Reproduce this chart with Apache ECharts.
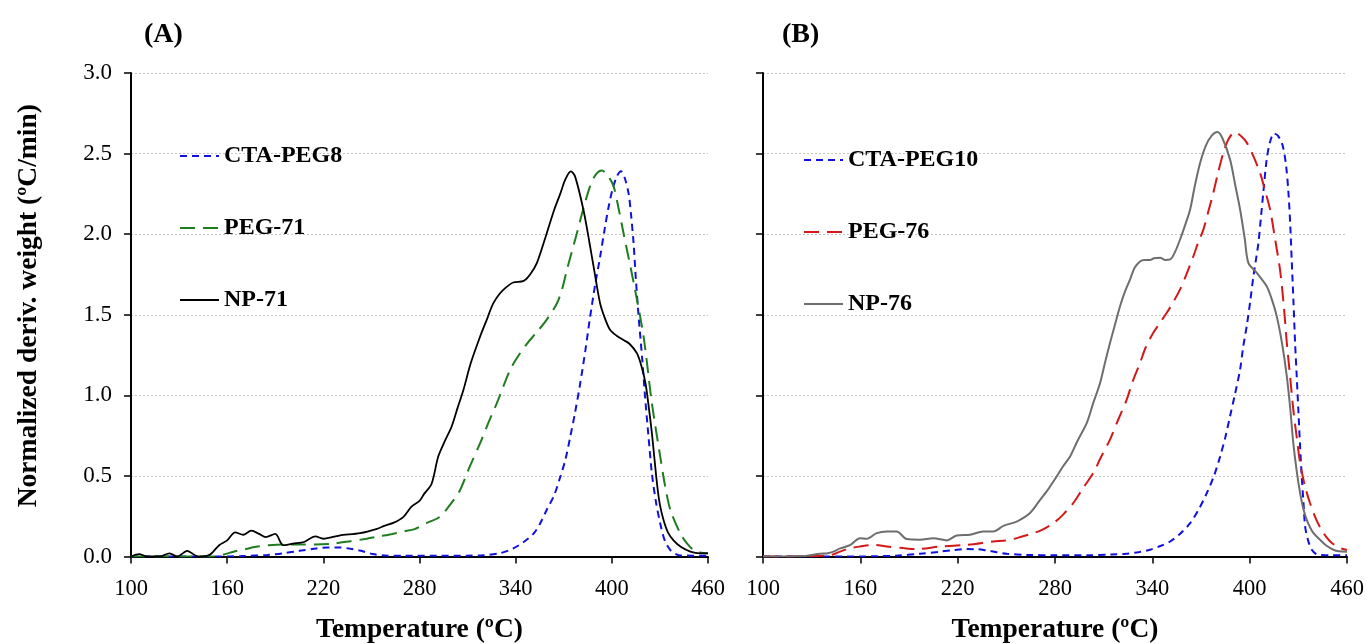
<!DOCTYPE html>
<html>
<head>
<meta charset="utf-8">
<script src="https://cdn.jsdelivr.net/npm/echarts@6/dist/echarts.min.js"></script>
<style>
  html, body { margin: 0; padding: 0; background: #fff; }
  #chart { width: 1367px; height: 644px; }
</style>
</head>
<body>
<div id="chart"></div>
<script>
// x ticks / y ticks
const xTicks = [100, 160, 220, 280, 340, 400, 460];
const yTicks = [0, 0.5, 1.0, 1.5, 2.0, 2.5, 3.0];

// panel (A)
const np71T = [100,105,110,118,124,129,135,142,149,155,160,165,170,175,180,184,190,195,201,208,215,220,230,243,253,258,264,270,275,280,283,287.5,291.7,296,300,304,307.3,312,317.8,322,326,330,334,338.5,345,349,353.2,359.4,364,367.8,371,374.4,377,382.3,386,388.6,392.7,396,399,403,407.3,411,415.7,418.5,421,423,425,428.2,430,432.3,435,438.5,443,449,455,460];
const np71V = [0,0.015,0,0,0.02,0,0.035,0,0.01,0.07,0.10,0.15,0.135,0.16,0.14,0.12,0.14,0.07,0.08,0.09,0.125,0.11,0.13,0.145,0.17,0.19,0.21,0.246,0.31,0.345,0.39,0.45,0.62,0.72,0.805,0.93,1.03,1.20,1.364,1.47,1.57,1.63,1.67,1.70,1.71,1.75,1.82,2.006,2.15,2.25,2.34,2.39,2.36,2.15,1.95,1.80,1.57,1.47,1.405,1.37,1.343,1.32,1.26,1.18,1.075,0.93,0.764,0.45,0.32,0.225,0.15,0.10,0.06,0.03,0.02,0.02];

const peg71T = [100,150,157,164,171,178,186,195,205,215,226,237,247,255,263,270,277,285,292.7,299,305.2,311,317.7,323,328.2,336.5,342,347,353,359.4,365.7,369,372,378.2,382,386.5,390,393.8,397,401,404,407.3,413.6,419.8,425,430.2,433,436.5,442.7,447,451,455,460];
const peg71V = [0,0,0.01,0.03,0.045,0.06,0.07,0.075,0.075,0.075,0.08,0.095,0.11,0.125,0.14,0.155,0.17,0.21,0.246,0.32,0.41,0.55,0.70,0.83,0.95,1.157,1.25,1.32,1.39,1.47,1.57,1.66,1.78,2.006,2.15,2.30,2.37,2.395,2.37,2.30,2.17,2.006,1.70,1.364,0.95,0.62,0.45,0.29,0.143,0.08,0.04,0.025,0.02];

const cta8T = [100,160,170,185,195,205,215.7,223,230.3,237,242.8,251,258,270,290,310,320,330,338.5,345,351,355,359.4,364,367.7,371,374,377,380.2,383.5,386.5,389.5,392.7,395.5,398,400.5,403.2,405.7,408,410.5,412,413.6,415,416.7,419,420.9,423,425,427.5,430.2,433,436.5,440,443,460];
const cta8V = [0,0,0.003,0.01,0.02,0.035,0.05,0.056,0.056,0.048,0.037,0.015,0.006,0.004,0.004,0.005,0.008,0.02,0.05,0.09,0.14,0.20,0.29,0.38,0.49,0.60,0.74,0.89,1.07,1.28,1.49,1.68,1.86,2.03,2.17,2.28,2.36,2.39,2.35,2.25,2.12,1.94,1.72,1.49,1.22,0.97,0.73,0.515,0.34,0.205,0.10,0.04,0.015,0.006,0.005];

// panel (B)
const np76T = [100,125,135.1,140,143.4,147.5,153.6,159.8,163.9,170.1,176.3,182.4,188.6,196.8,205,213.3,219.4,227.6,235.8,242,248.2,256.4,264.6,270.8,276,281.1,285,289.3,294,299.6,303.5,307.8,311,313.9,317,320.1,323,326.3,329,332.4,335,338.6,341,344.8,348,351,354,357.1,360,363.3,366,369.4,373,376.5,380.1,383,387.9,391,394.1,397,399.2,404.4,410.5,413.5,416.7,420,422.9,425,426.9,429,431.1,433,435.2,439,443.4,447,451.6,455,460];
const np76V = [0,0.003,0.017,0.02,0.03,0.05,0.07,0.114,0.11,0.145,0.155,0.155,0.108,0.104,0.114,0.10,0.13,0.135,0.155,0.155,0.19,0.217,0.27,0.352,0.42,0.497,0.56,0.621,0.72,0.829,0.95,1.077,1.21,1.325,1.44,1.553,1.64,1.72,1.79,1.83,1.84,1.84,1.85,1.853,1.84,1.843,1.89,1.967,2.05,2.153,2.29,2.44,2.55,2.61,2.634,2.60,2.464,2.31,2.153,1.97,1.822,1.76,1.677,1.60,1.49,1.32,1.118,0.92,0.704,0.53,0.394,0.30,0.228,0.15,0.104,0.07,0.042,0.032,0.03];

const peg76T = [100,140,147.5,153,159.8,168,176.3,186.5,194.8,209.1,225.6,242,250,256.4,266.7,272,279,285,291.3,297,303.6,308,313.9,319,324.2,328,332.4,336,340.6,344,348.9,353,357.1,361,365.3,368,371.5,374.5,377.6,380.5,383.8,387,391,394.5,398.2,402,406.4,409.5,412.6,415.5,418.7,421,422.9,425,426.9,429,431.1,434,437.2,441,445.5,449.5,453.7,457,460];
const peg76V = [0,0.005,0.03,0.05,0.062,0.072,0.062,0.052,0.046,0.062,0.072,0.093,0.10,0.114,0.145,0.165,0.207,0.26,0.332,0.42,0.518,0.61,0.725,0.85,0.973,1.09,1.201,1.30,1.388,1.44,1.512,1.58,1.657,1.75,1.863,1.94,2.03,2.14,2.257,2.38,2.505,2.59,2.634,2.61,2.568,2.49,2.38,2.27,2.153,1.98,1.78,1.56,1.325,1.11,0.911,0.74,0.58,0.44,0.332,0.23,0.145,0.095,0.062,0.048,0.04];

const cta10T = [100,160,170,182,196.8,209.1,218,225.6,232,238,244,250.3,262.6,280,300,315,324,332,338.6,345,351,357,363.3,368.5,373.6,378,381.8,385,387.9,391,394.1,396,398.2,400.3,402.3,404,405.4,407,408.4,410.5,412.5,415,417.5,420.4,422.5,423.9,425,425.9,427,428,429,430,431,432.1,433.2,434.2,436,438.3,441,443.4,450,460];
const cta10V = [0,0,0.002,0.005,0.017,0.03,0.04,0.046,0.045,0.037,0.027,0.017,0.01,0.008,0.008,0.012,0.017,0.028,0.042,0.065,0.093,0.14,0.207,0.29,0.394,0.50,0.621,0.74,0.87,1.01,1.16,1.30,1.43,1.58,1.739,1.85,1.947,2.11,2.257,2.464,2.57,2.625,2.61,2.547,2.42,2.257,2.06,1.843,1.58,1.325,1.12,0.911,0.70,0.497,0.33,0.186,0.10,0.042,0.015,0.01,0.008,0.008];

const serif = 'Liberation Serif';

function pairs(t, v) {
    return t.map(function (x, i) { return [x, v[i]]; });
}

function makeSeries(name, t, v, idx, color, type, width) {
    return {
        name: name,
        type: 'line',
        xAxisIndex: idx,
        yAxisIndex: idx,
        data: pairs(t, v),
        smooth: 0.3,
        symbol: 'none',
        lineStyle: { color: color, width: width, type: type },
        itemStyle: { color: color },
        z: 3
    };
}

function makeX(idx) {
    return {
        type: 'value', gridIndex: idx,
        min: xTicks[0], max: xTicks[xTicks.length - 1], interval: 60,
        name: 'Temperature (ºC)', nameLocation: 'middle', nameGap: 59,
        nameTextStyle: { fontFamily: serif, fontWeight: 'bold', fontSize: 27.5, color: '#000' },
        axisLine: { lineStyle: { color: '#000', width: 2 } },
        axisTick: { length: 7, lineStyle: { color: '#000', width: 1.5 } },
        axisLabel: { fontFamily: serif, fontSize: 22.5, color: '#000', margin: 21 },
        splitLine: { show: false }
    };
}

function makeY(idx) {
    return {
        type: 'value', gridIndex: idx,
        min: yTicks[0], max: yTicks[yTicks.length - 1], interval: 0.5,
        name: idx === 0 ? 'Normalized deriv. weight (ºC/min)' : '',
        nameLocation: 'middle', nameGap: 88,
        nameTextStyle: { fontFamily: serif, fontWeight: 'bold', fontSize: 27.5, color: '#000', padding: [0, 0, 0, 18] },
        axisLine: { show: true, lineStyle: { color: '#000', width: 2 } },
        axisTick: { show: true, length: 7, lineStyle: { color: '#000', width: 1.5 } },
        axisLabel: {
            show: idx === 0, fontFamily: serif, fontSize: 23, color: '#000', margin: 19,
            formatter: function (v) { return v.toFixed(1); }
        },
        splitLine: { show: true, lineStyle: { color: '#c4c4c4', width: 1, type: [2, 2] } }
    };
}

function makeLegend(left, top, names) {
    return {
        orient: 'vertical', left: left, top: top, padding: 0,
        data: names, itemWidth: 39, itemHeight: 12, itemGap: 48,
        selectedMode: false,
        itemStyle: { opacity: 0 },
        lineStyle: { width: 2 },
        textStyle: { fontFamily: serif, fontWeight: 'bold', fontSize: 24, color: '#000', lineHeight: 24 }
    };
}

const chart = echarts.init(document.getElementById('chart'), null, { renderer: 'canvas' });

chart.setOption({
    backgroundColor: '#fff',
    animation: false,
    title: [
        { text: '(A)', left: 139, top: 16, textStyle: { fontFamily: serif, fontWeight: 'bold', fontSize: 28, color: '#000' } },
        { text: '(B)', left: 777, top: 16, textStyle: { fontFamily: serif, fontWeight: 'bold', fontSize: 28, color: '#000' } }
    ],
    grid: [
        { left: 131, top: 73, width: 577, height: 483.5, outerBoundsMode: 'none', containLabel: false },
        { left: 763, top: 73, width: 584, height: 483.5, outerBoundsMode: 'none', containLabel: false }
    ],
    xAxis: [makeX(0), makeX(1)],
    yAxis: [makeY(0), makeY(1)],
    legend: [
        makeLegend(179, 144, ['CTA-PEG8', 'PEG-71', 'NP-71']),
        makeLegend(803, 148, ['CTA-PEG10', 'PEG-76', 'NP-76'])
    ],
    series: [
        makeSeries('CTA-PEG8', cta8T, cta8V, 0, '#1010e0', [7, 5], 2),
        makeSeries('PEG-71', peg71T, peg71V, 0, '#1e7d1e', [15, 8], 2),
        makeSeries('NP-71', np71T, np71V, 0, '#000000', 'solid', 1.8),
        makeSeries('CTA-PEG10', cta10T, cta10V, 1, '#1010e0', [7, 5], 2),
        makeSeries('PEG-76', peg76T, peg76V, 1, '#d41818', [15, 8], 2),
        makeSeries('NP-76', np76T, np76V, 1, '#6e6e6e', 'solid', 2)
    ]
});
</script>
</body>
</html>
